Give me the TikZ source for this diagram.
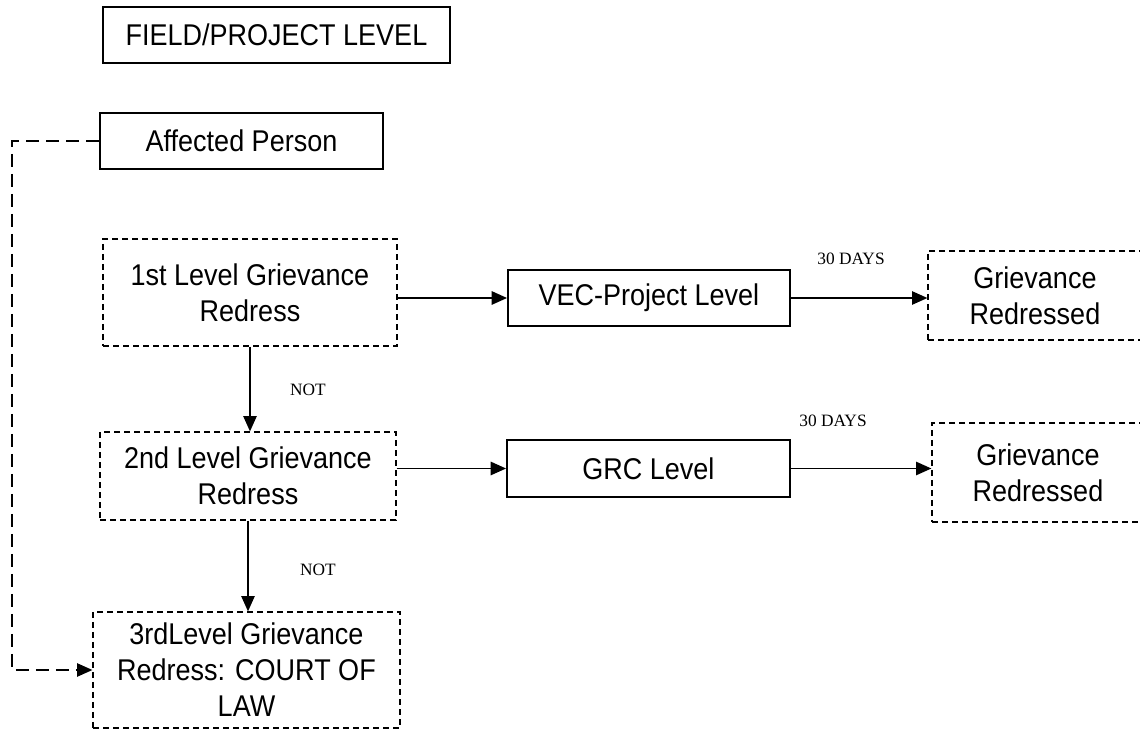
\documentclass[tikz,border=0pt]{standalone}
\usepackage{fontspec}
\setmainfont{Liberation Sans}[FakeStretch=0.9]
\newfontfamily\serf{Liberation Serif}
\usetikzlibrary{arrows.meta}
\tikzset{
  boxtext/.style={inner sep=0pt, align=center, font=\fontsize{22.5pt}{27pt}\selectfont},
  solidbox/.style={boxtext, draw, line width=1.4pt},
  dashbox/.style={boxtext, draw, line width=0.9pt, dash pattern=on 4.5pt off 3pt},
  arr/.style={-{Triangle[length=11.5pt,width=10pt]}, line width=1.2pt},
  dconn/.style={-{Triangle[length=11.5pt,width=10pt]}, line width=1.1pt, dash pattern=on 10pt off 5pt},
  lbl/.style={inner sep=0pt, font=\serf\fontsize{13pt}{15pt}\selectfont}
}
\begin{document}
\begin{tikzpicture}[x=0.75pt,y=-0.75pt]
\useasboundingbox (0,0) rectangle (1140,737);
\begin{scope}
\clip (0,0) rectangle (1140,737);
\node[solidbox, minimum width=260.25pt, minimum height=42pt] (field) at (276.5,35) {FIELD/PROJECT LEVEL};
\node[solidbox, minimum width=212.25pt, minimum height=42pt] (ap) at (241.5,141) {Affected Person};
\node[dashbox, minimum width=220.5pt, minimum height=80.25pt] (l1) at (250,292.5) {1st Level Grievance\\Redress};
\node[solidbox, minimum width=211.5pt, minimum height=42pt] (vec) at (649,298) {VEC-Project Level};
\node[dashbox, minimum width=160.5pt, minimum height=66.75pt] (gr1) at (1035,295.5) {Grievance\\Redressed};
\node[dashbox, minimum width=222pt, minimum height=66pt] (l2) at (248,476) {2nd Level Grievance\\Redress};
\node[solidbox, minimum width=212.25pt, minimum height=42.75pt] (grc) at (648.5,468.5) {GRC Level};
\node[dashbox, minimum width=159pt, minimum height=74.25pt] (gr2) at (1038,472.5) {Grievance\\Redressed};
\node[dashbox, minimum width=230.25pt, minimum height=87pt] (l3) at (246.5,670) {3rdLevel Grievance\\Redress: COURT OF\\LAW};

\draw[arr] (vec.west -| l1.east) -- (vec.west);
\draw[arr] (vec.east) -- (vec.east -| gr1.west);
\draw[arr] (l2.east |- grc.west) -- (grc.west);
\draw[arr] (grc.east) -- (grc.east -| gr2.west);
\draw[arr] (l1.south) -- (l1.south |- l2.north);
\draw[arr] (l2.south) -- (l2.south |- l3.north);

\coordinate (turn) at (12,141);
\draw[dconn] (ap.west) -- (turn) |- (l3.west);

\node[lbl] (d1) at (851,259) {30 DAYS};
\node[lbl] (d2) at (833,421) {30 DAYS};
\node[lbl] (n1) at (308,390) {NOT};
\node[lbl] (n2) at (318,570) {NOT};
\end{scope}
\end{tikzpicture}
\end{document}
